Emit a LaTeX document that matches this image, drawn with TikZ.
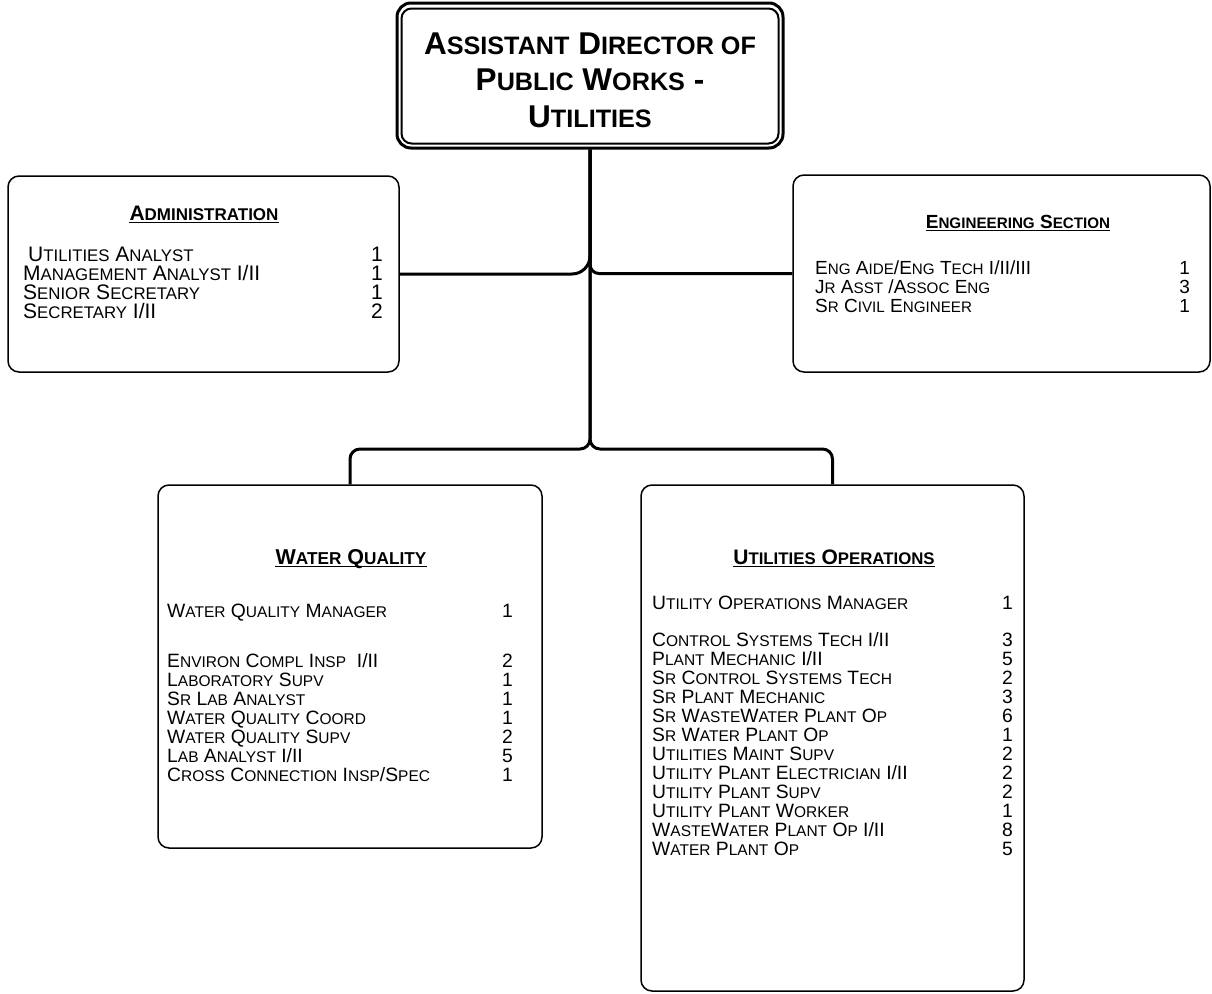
\documentclass[tikz,border=0pt]{standalone}
\usepackage{fontspec}
\setmainfont{Liberation Sans}
\def\skz{16}
\newcommand\sk[1]{{\fontsize{\skz}{\skz}\selectfont #1}}
\newcommand\tk[1]{{\fontsize{25.2}{25.2}\selectfont #1}}
\tikzset{
  box/.style={draw, line width=1.5pt, rounded corners=11pt, minimum width=#1, inner sep=0pt},
  conn/.style={line width=3pt},
  fa/.style={font=\def\skz{16.8}\fontsize{21}{21}\selectfont},
  fe/.style={font=\def\skz{15.2}\fontsize{19}{19}\selectfont},
  fw/.style={font=\def\skz{15.5}\fontsize{19.3}{19.3}\selectfont},
  rowtext/.style={anchor=base west, inner sep=0pt},
  numtext/.style={anchor=base east, inner sep=0pt},
  hdr/.style n args={2}{anchor=base, inner sep=0pt, font=\bfseries\def\skz{#2}\fontsize{#1}{#1}\selectfont},
  ttl/.style={anchor=base, inner sep=0pt, font=\bfseries\fontsize{31.5}{31.5}\selectfont},
  uline/.style={line width=1.4pt}
}
\begin{document}
\begin{tikzpicture}[x=1pt,y=-1pt]
\useasboundingbox (0,0) rectangle (1212,993);
% title box
\node[draw, line width=3pt, rounded corners=14pt, minimum width=386pt, minimum height=145pt, inner sep=0pt] (title) at (590,75.5) {};
\draw[line width=2pt, rounded corners=10pt] ([shift={(6,7)}]title.north west) rectangle ([shift={(-6,-6)}]title.south east);
\node[ttl] (t1) at (590,54) {A\tk{SSISTANT} D\tk{IRECTOR OF}};
\node[ttl] (t2) at (590,90.5) {P\tk{UBLIC} W\tk{ORKS} -};
\node[ttl] (t3) at (590,127) {U\tk{TILITIES}};
% boxes
\node[box=391pt, minimum height=196pt] (admin) at (203.5,274) {};
\node[box=417pt, minimum height=197pt] (eng) at (1001.5,273.5) {};
\node[box=384pt, minimum height=363pt] (wq) at (350,666.5) {};
\node[box=383pt, minimum height=506pt] (uo) at (832.5,738) {};
% connectors
\coordinate (bus) at (0,449);
\draw[conn, rounded corners=18pt] (admin.east) -| (title.south);
\draw[conn, rounded corners=9pt] (eng.west) -| (title.south);
\draw[conn, rounded corners=10pt] (title.south) |- (wq.north |- bus) -- (wq.north);
\draw[conn, rounded corners=10pt] (title.south) |- (uo.north |- bus) -- (uo.north);
% administration
\node[hdr={21}{17}] (ha) at (204,220) {A\sk{DMINISTRATION}};
\draw[uline] ([yshift=-2.5pt]ha.base west) -- ([yshift=-2.5pt]ha.base east);
\begin{scope}[every node/.append style={fa}]
\node[rowtext] (a1) at (28,261) {U\sk{TILITIES} A\sk{NALYST}};
\node[rowtext] (a2) at (23,280) {M\sk{ANAGEMENT} A\sk{NALYST} I/II};
\node[rowtext] (a3) at (23,299) {S\sk{ENIOR} S\sk{ECRETARY}};
\node[rowtext] (a4) at (23,318) {S\sk{ECRETARY} I/II};
\node[numtext] (an1) at (383,261) {1};
\node[numtext] (an2) at (383,280) {1};
\node[numtext] (an3) at (383,299) {1};
\node[numtext] (an4) at (383,318) {2};
\end{scope}
% engineering
\node[hdr={19}{15.2}] (he) at (1018,228) {E\sk{NGINEERING} S\sk{ECTION}};
\draw[uline] ([yshift=-2.5pt]he.base west) -- ([yshift=-2.5pt]he.base east);
\begin{scope}[every node/.append style={fe}]
\node[rowtext] (e1) at (815,274) {E\sk{NG} A\sk{IDE}/E\sk{NG} T\sk{ECH} I/II/III};
\node[rowtext] (e2) at (815,293) {J\sk{R} A\sk{SST} /A\sk{SSOC} E\sk{NG}};
\node[rowtext] (e3) at (815,312) {S\sk{R} C\sk{IVIL} E\sk{NGINEER}};
\node[numtext] (en1) at (1190,274) {1};
\node[numtext] (en2) at (1190,293) {3};
\node[numtext] (en3) at (1190,312) {1};
\end{scope}
% water quality
\node[hdr={21.5}{17.2}] (hw) at (351,564) {W\sk{ATER} Q\sk{UALITY}};
\draw[uline] ([yshift=-2.5pt]hw.base west) -- ([yshift=-2.5pt]hw.base east);
\begin{scope}[every node/.append style={fw}]
\node[rowtext] (w0) at (167,617) {W\sk{ATER} Q\sk{UALITY} M\sk{ANAGER}};
\node[numtext] (wn0) at (513,617) {1};
\node[rowtext] (w1) at (167,667) {E\sk{NVIRON} C\sk{OMPL} I\sk{NSP}\ \ I/II};
\node[numtext] (wn1) at (513,667) {2};
\node[rowtext] (w2) at (167,686) {L\sk{ABORATORY} S\sk{UPV}};
\node[numtext] (wn2) at (513,686) {1};
\node[rowtext] (w3) at (167,705) {S\sk{R} L\sk{AB} A\sk{NALYST}};
\node[numtext] (wn3) at (513,705) {1};
\node[rowtext] (w4) at (167,724) {W\sk{ATER} Q\sk{UALITY} C\sk{OORD}};
\node[numtext] (wn4) at (513,724) {1};
\node[rowtext] (w5) at (167,743) {W\sk{ATER} Q\sk{UALITY} S\sk{UPV}};
\node[numtext] (wn5) at (513,743) {2};
\node[rowtext] (w6) at (167,762) {L\sk{AB} A\sk{NALYST} I/II};
\node[numtext] (wn6) at (513,762) {5};
\node[rowtext] (w7) at (167,781) {C\sk{ROSS} C\sk{ONNECTION} I\sk{NSP}/S\sk{PEC}};
\node[numtext] (wn7) at (513,781) {1};
\end{scope}
% utilities operations
\node[hdr={21}{16.8}] (hu) at (834,564) {U\sk{TILITIES} O\sk{PERATIONS}};
\draw[uline] ([yshift=-2.5pt]hu.base west) -- ([yshift=-2.5pt]hu.base east);
\begin{scope}[every node/.append style={fw}]
\node[rowtext] (u0) at (652,609) {U\sk{TILITY} O\sk{PERATIONS} M\sk{ANAGER}};
\node[numtext] (un0) at (1013,609) {1};
\node[rowtext] (u1) at (652,646) {C\sk{ONTROL} S\sk{YSTEMS} T\sk{ECH} I/II};
\node[numtext] (un1) at (1013,646) {3};
\node[rowtext] (u2) at (652,665) {P\sk{LANT} M\sk{ECHANIC} I/II};
\node[numtext] (un2) at (1013,665) {5};
\node[rowtext] (u3) at (652,684) {S\sk{R} C\sk{ONTROL} S\sk{YSTEMS} T\sk{ECH}};
\node[numtext] (un3) at (1013,684) {2};
\node[rowtext] (u4) at (652,703) {S\sk{R} P\sk{LANT} M\sk{ECHANIC}};
\node[numtext] (un4) at (1013,703) {3};
\node[rowtext] (u5) at (652,722) {S\sk{R} W\sk{ASTE}W\sk{ATER} P\sk{LANT} O\sk{P}};
\node[numtext] (un5) at (1013,722) {6};
\node[rowtext] (u6) at (652,741) {S\sk{R} W\sk{ATER} P\sk{LANT} O\sk{P}};
\node[numtext] (un6) at (1013,741) {1};
\node[rowtext] (u7) at (652,760) {U\sk{TILITIES} M\sk{AINT} S\sk{UPV}};
\node[numtext] (un7) at (1013,760) {2};
\node[rowtext] (u8) at (652,779) {U\sk{TILITY} P\sk{LANT} E\sk{LECTRICIAN} I/II};
\node[numtext] (un8) at (1013,779) {2};
\node[rowtext] (u9) at (652,798) {U\sk{TILITY} P\sk{LANT} S\sk{UPV}};
\node[numtext] (un9) at (1013,798) {2};
\node[rowtext] (u10) at (652,817) {U\sk{TILITY} P\sk{LANT} W\sk{ORKER}};
\node[numtext] (un10) at (1013,817) {1};
\node[rowtext] (u11) at (652,836) {W\sk{ASTE}W\sk{ATER} P\sk{LANT} O\sk{P} I/II};
\node[numtext] (un11) at (1013,836) {8};
\node[rowtext] (u12) at (652,855) {W\sk{ATER} P\sk{LANT} O\sk{P}};
\node[numtext] (un12) at (1013,855) {5};
\end{scope}
\end{tikzpicture}
\end{document}
